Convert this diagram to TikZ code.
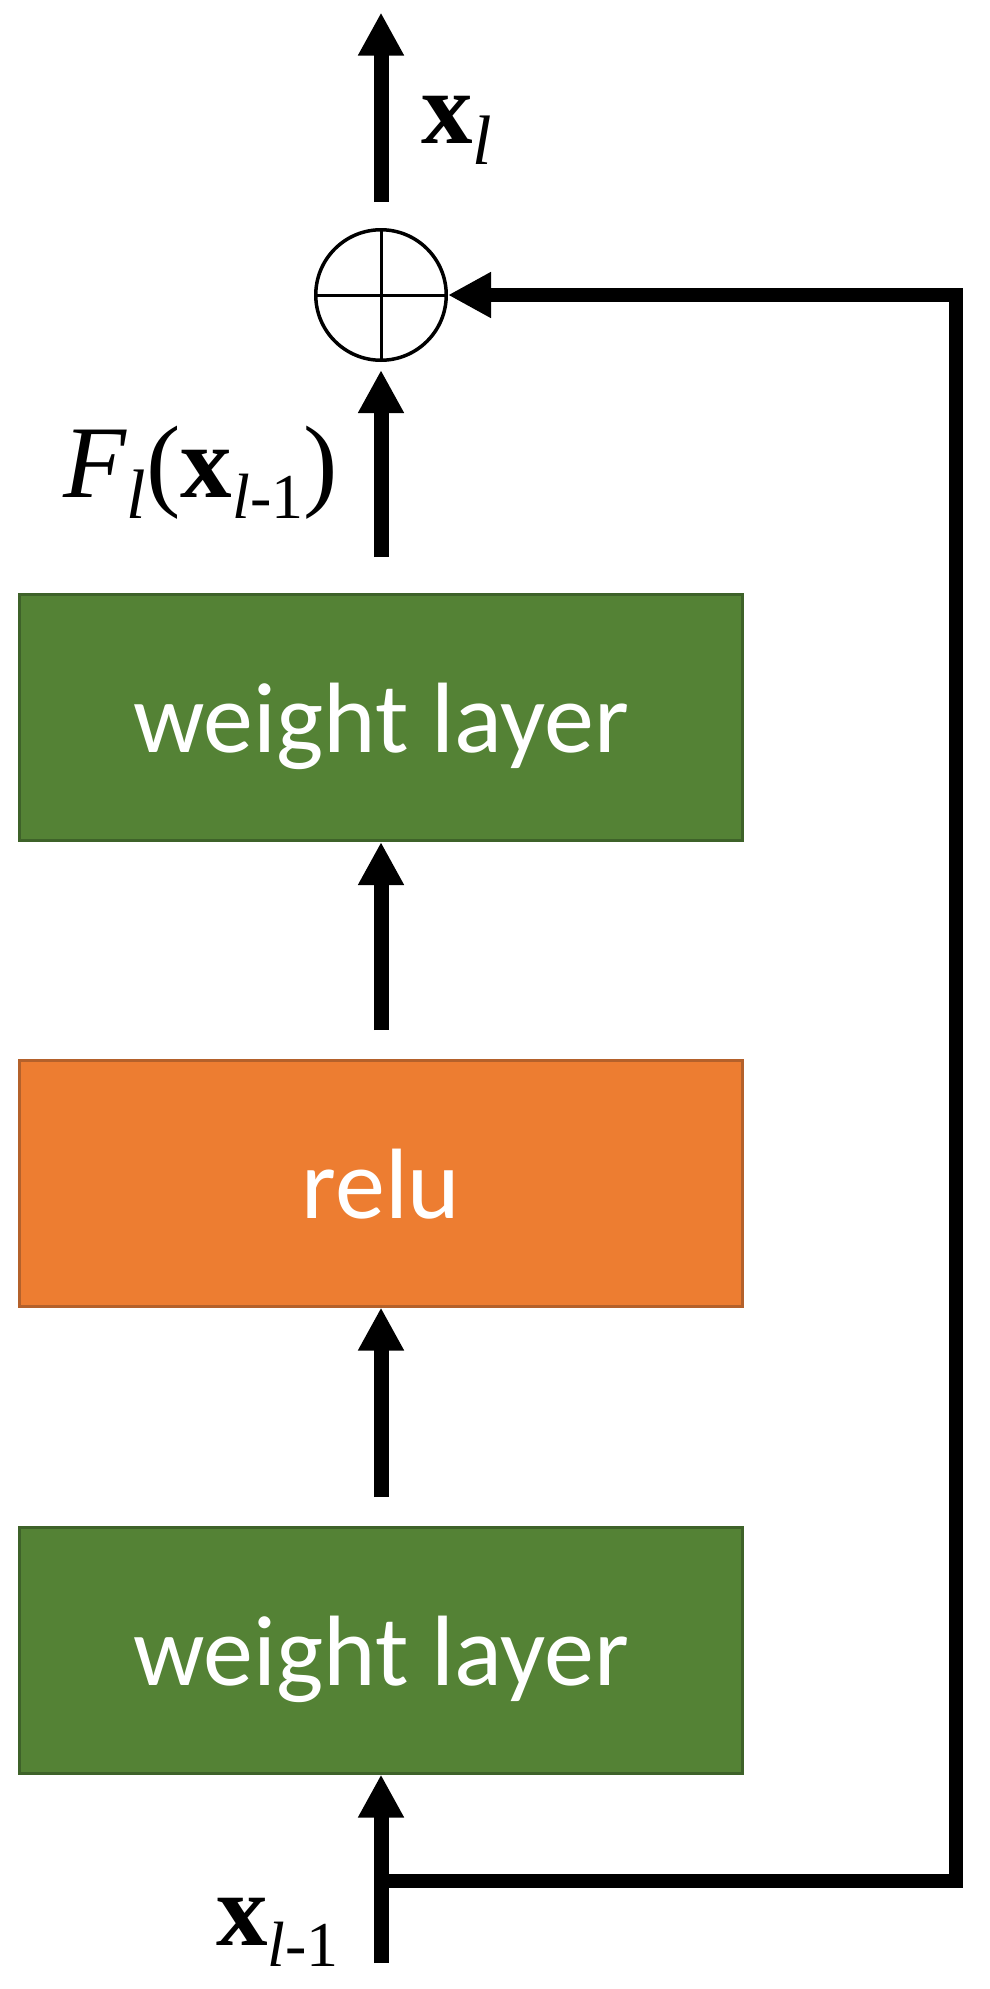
\documentclass[tikz,border=0pt]{standalone}
\usepackage{fontspec}
\usetikzlibrary{arrows.meta}
\newfontfamily\carlito{Carlito}
\newfontfamily\tnr{Liberation Serif}[UprightFont=*, BoldFont=* Bold, ItalicFont=* Italic, BoldItalicFont=* Bold Italic]
\definecolor{gfill}{HTML}{548235}
\definecolor{gline}{HTML}{3E6229}
\definecolor{ofill}{HTML}{ED7D31}
\definecolor{oline}{HTML}{B4612B}
\tikzset{
  boxbase/.style={draw, line width=3pt, minimum width=723pt, minimum height=246pt,
    inner sep=0pt, text=white, font=\carlito\fontsize{100}{110}\selectfont,
    text height=70pt, text depth=0pt},
  wbox/.style={boxbase, fill=gfill, draw=gline},
  rbox/.style={boxbase, fill=ofill, draw=oline},
  arr/.style={line width=15pt, -{Triangle[width=43pt,length=43pt]}},
  lbl/.style={anchor=base west, inner sep=0pt, font=\tnr\fontsize{103}{110}\selectfont}
}
\newcommand\subl[2]{\raisebox{-21pt}{\fontsize{#1}{#1}\selectfont #2}}
\newcommand\bx{{\bfseries\upshape x}}
\begin{document}
\begin{tikzpicture}[x=1pt,y=-1pt]
\useasboundingbox (0,0) rectangle (990,1989);
\node[wbox] (w2) at (381,717.5) {weight layer};
\node[rbox] (relu) at (381,1183) {relu};
\node[wbox] (w1) at (381,1650) {weight layer};
\node[draw, circle, line width=3.5pt, minimum size=130.5pt, inner sep=0pt] (sum) at (381,295) {};
\draw[line width=3pt] (sum.north) -- (sum.south);
\draw[line width=3pt] (sum.west) -- (sum.east);
\coordinate (a0) at (381,1963);
\coordinate (a1) at (381,1497);
\coordinate (a2) at (381,1030);
\coordinate (a3) at (381,557);
\coordinate (a4) at (381,202);
\coordinate (top) at (381,12.5);
\coordinate (s0) at (381,1881);
\coordinate (c2) at (956,295);
\draw[arr] (a0) -- (w1.south);
\draw[arr] (a1) -- (relu.south);
\draw[arr] (a2) -- (w2.south);
\draw[arr, shorten >=8pt] (a3) -- (sum);
\draw[arr] (a4) -- (top);
\draw[line width=14pt, line join=miter, -{Triangle[width=43pt,length=43pt]}] (s0) -| (c2) -- (sum);
\node[lbl] (xl) at (421,143) {\bx\subl{70}{\textit{l}}};
\node[lbl] (Fl) at (63,497) {\textit{F}\subl{70}{\textit{l}}(\bx\subl{64}{\textit{l}-1})};
\node[lbl] (xlm) at (216,1945) {\bx\subl{64}{\textit{l}-1}};
\end{tikzpicture}
\end{document}
